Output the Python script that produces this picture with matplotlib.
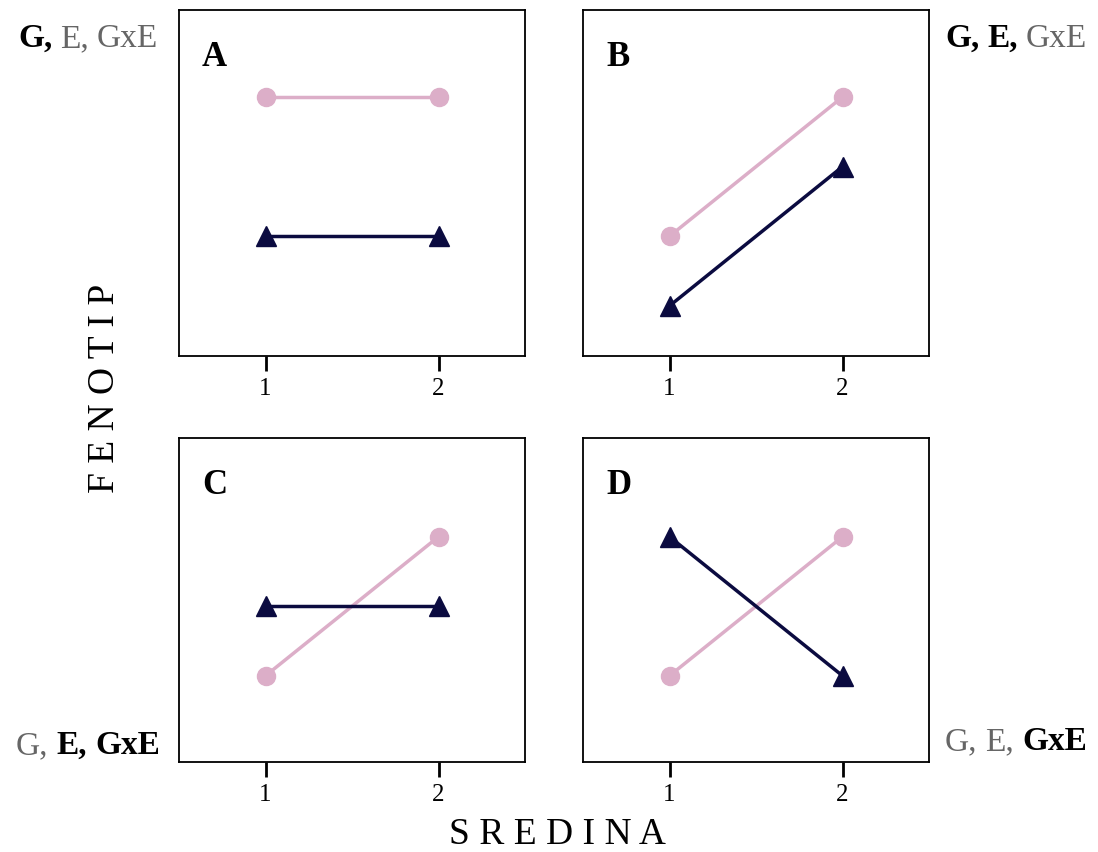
import matplotlib.pyplot as plt

plt.rcParams['font.family'] = ['Liberation Serif', 'DejaVu Serif']

# environment levels on the x axis
sredina = [1, 2]
tick_labels = ['1', '2']

# phenotype of two genotypes in each scenario
panels = ['A', 'B', 'C', 'D']
genotip_1 = {'A': [4, 4], 'B': [2, 4], 'C': [2, 4], 'D': [2, 4]}
genotip_2 = {'A': [2, 2], 'B': [1, 3], 'C': [3, 3], 'D': [4, 2]}

# which effects are present (bold) in each scenario
effects = ['G', 'E', 'GxE']
present = {'A': [True, False, False], 'B': [True, True, False],
           'C': [False, True, True], 'D': [False, False, True]}

PINK = '#dcaec8'
NAVY = '#0b0b40'
GREY = '#666666'

fig = plt.figure(figsize=(10.98, 8.52), dpi=100)
W, H = 1098, 852

# panel boxes in pixels: left, top, width, height
boxes = {'A': (179, 10, 346, 346), 'B': (583, 10, 346, 346),
         'C': (179, 438, 346, 324), 'D': (583, 438, 346, 324)}
ylims = {'A': (0.28, 5.25), 'B': (0.28, 5.25), 'C': (0.76, 5.42), 'D': (0.76, 5.42)}

for p in panels:
    x0, y0, w, h = boxes[p]
    ax = fig.add_axes([x0 / W, (H - y0 - h) / H, w / W, h / H])
    ax.plot(sredina, genotip_1[p], color=PINK, lw=2.5, marker='o', ms=13,
            mec=PINK, mfc=PINK, zorder=2)
    ax.plot(sredina, genotip_2[p], color=NAVY, lw=2.5, marker='^', ms=14,
            mec=NAVY, mfc=NAVY, zorder=3)
    ax.set_xlim(0.5, 2.5)
    ax.set_ylim(*ylims[p])
    ax.set_xticks(sredina)
    ax.set_xticklabels(tick_labels, fontsize=18)
    ax.set_yticks([])
    ax.tick_params(axis='x', length=11, width=2, pad=5, color='black')
    for s in ax.spines.values():
        s.set_linewidth(1.3)
    ax.text(23 / w, 1 - 56 / h, p, transform=ax.transAxes, fontsize=25,
            fontweight='bold', va='baseline', ha='left')

# corner labels made of bold / grey pieces
label_pos = {'A': (18, 47), 'B': (945, 47), 'C': (16, 754), 'D': (945, 750)}
renderer = fig.canvas.get_renderer()
for p in panels:
    x, y = label_pos[p]
    for i, (eff, on) in enumerate(zip(effects, present[p])):
        piece = eff + (',' if i < len(effects) - 1 else '')
        t = fig.text(x / W, (H - y) / H, piece, fontsize=24,
                     fontweight='bold' if on else 'normal',
                     color='black' if on else GREY, va='baseline', ha='left')
        bb = t.get_window_extent(renderer)
        x += bb.width + 8

fig.text(557 / W, (H - 835) / H, 'S R E D I N A', fontsize=27,
         ha='center', va='center')
fig.text(105 / W, (H - 388) / H, 'F E N O T I P', fontsize=27,
         ha='center', va='center', rotation=90)

fig.savefig('out.png', dpi=100)
